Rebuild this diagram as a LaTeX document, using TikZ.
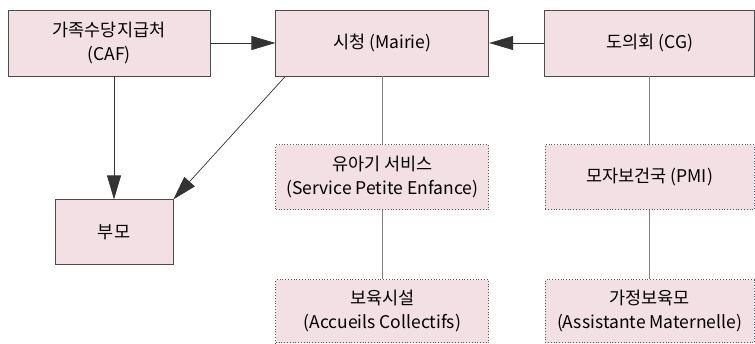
\documentclass[tikz,border=0pt]{standalone}
\usepackage{fontspec}
\setmainfont{Noto Sans CJK KR}
\usetikzlibrary{arrows.meta, positioning}
\definecolor{boxpink}{HTML}{F3E0E5}

\begin{document}
\begin{tikzpicture}[
        x=1pt, y=1pt,
        box/.style={rectangle, draw=black!70, fill=boxpink, line width=0.8pt, align=center, minimum height=66pt, inner sep=2pt, font=\fontsize{17.5}{24}\selectfont},
        dotbox/.style={box, draw=black!65, dotted, line width=1pt, minimum height=65pt},
        arrow/.style={-{Triangle[length=24pt, width=14pt]}, line width=0.7pt, draw=black!80},
        link/.style={line width=0.8pt, draw=black!50}
    ]
        \useasboundingbox (0,0) rectangle (755,-343);

        % Top row
        \node[box, minimum width=202pt] (caf) at (109,-43) {가족수당지급처 \\ (CAF)};
        \node[box, minimum width=213pt, right=65pt of caf] (mairie) {시청 (Mairie)};
        \node[box, minimum width=210pt, right=55pt of mairie] (cg) {도의회 (CG)};

        % Parents
        \node[box, minimum width=118pt, minimum height=65pt, below=123pt of caf, xshift=5pt] (parents) {부모};

        % Services
        \node[dotbox, minimum width=213pt, below=68pt of mairie] (service) {유아기 서비스 \\ (Service Petite Enfance)};
        \node[dotbox, minimum width=213pt, minimum height=63pt, below=69pt of service] (accueil) {보육시설 \\ (Accueils Collectifs)};
        \node[dotbox, minimum width=209pt, below=68pt of cg] (pmi) {모자보건국 (PMI)};
        \node[dotbox, minimum width=209pt, minimum height=63pt, below=69pt of pmi] (assist) {가정보육모 \\ (Assistante Maternelle)};

        % Connections
        \draw[arrow] (caf) -- (mairie);
        \draw[arrow] (cg) -- (mairie);
        \draw[arrow] (caf.south -| parents) -- (parents);
        \draw[arrow] (mairie.199) -- (parents.north east);
        \draw[link] (mairie) -- (service);
        \draw[link] (service) -- (accueil);
        \draw[link] (cg) -- (pmi);
        \draw[link] (pmi) -- (assist);
    \end{tikzpicture}
\end{document}
